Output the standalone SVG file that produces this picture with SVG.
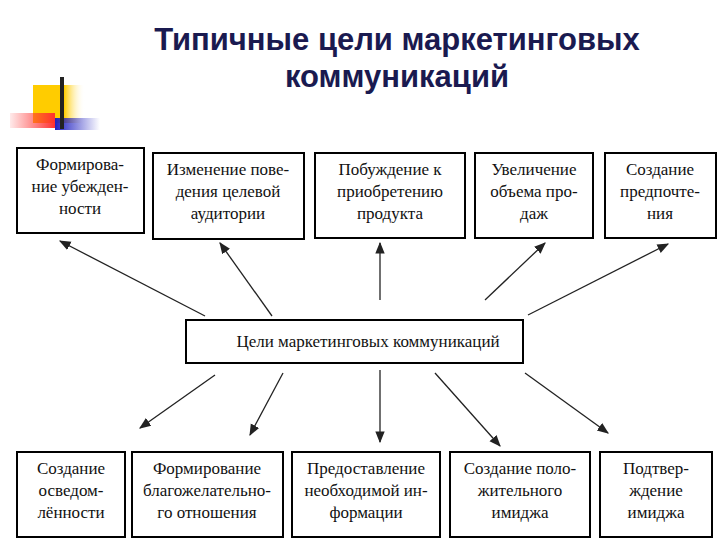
<svg xmlns="http://www.w3.org/2000/svg" width="720" height="540" viewBox="0 0 720 540">
<style>
.b{fill:#fff;stroke:#000;stroke-width:2}
.t{font-family:"Liberation Serif","Times New Roman","DejaVu Serif",serif;font-size:17px;text-anchor:middle;fill:#111}
.h{font-family:"Liberation Sans",Arial,sans-serif;font-size:31px;text-anchor:middle;fill:#1a1a50;font-weight:bold}
.c line{stroke:#222;stroke-width:1.3;marker-end:url(#a)}
</style>
<defs>
<marker id="a" viewBox="0 0 10 10" refX="9" refY="5" markerWidth="9" markerHeight="9" orient="auto"><path d="M0,1L10,5L0,9z" fill="#222"/></marker>
<linearGradient id="gy" x1="0" x2="1"><stop offset="0.6" stop-color="#ffcc00"/><stop offset="1" stop-color="#fff" stop-opacity="0"/></linearGradient>
<linearGradient id="gr" x1="1" x2="0"><stop offset="0" stop-color="#ff3030"/><stop offset="1" stop-color="#ff3030" stop-opacity="0.1"/></linearGradient>
<linearGradient id="gb" x1="0" x2="1"><stop offset="0" stop-color="#2020c0"/><stop offset="1" stop-color="#2020c0" stop-opacity="0"/></linearGradient>
</defs>
<g id="logo">
<rect x="33" y="85" width="52" height="38" fill="url(#gy)"/>
<rect x="10" y="113" width="45" height="15" fill="url(#gr)"/>
<rect x="55" y="118" width="45" height="12" fill="url(#gb)"/>
<rect x="60" y="77" width="4" height="52" fill="#222"/>
</g>
<text class="h" x="397" y="50">Типичные цели маркетинговых</text>
<text class="h" x="397" y="87">коммуникаций</text>
<g class="c" id="connectors">
<line x1="205" y1="316" x2="60" y2="241"/>
<line x1="272" y1="316" x2="220" y2="243"/>
<line x1="380" y1="300" x2="380" y2="243"/>
<line x1="485" y1="300" x2="545" y2="243"/>
<line x1="528" y1="315" x2="668" y2="244"/>
<line x1="215" y1="375" x2="140" y2="428"/>
<line x1="283" y1="373" x2="250" y2="435"/>
<line x1="380" y1="370" x2="380" y2="442"/>
<line x1="435" y1="373" x2="500" y2="446"/>
<line x1="525" y1="373" x2="608" y2="433"/>
</g>
<g id="n1"><rect class="b" x="17" y="148" width="127" height="85"/><text class="t" x="80" y="170">Формирова-</text><text class="t" x="80" y="192">ние убежден-</text><text class="t" x="80" y="214">ности</text></g>
<g id="n2"><rect class="b" x="153" y="153" width="151" height="86"/><text class="t" x="228" y="175">Изменение пове-</text><text class="t" x="228" y="197">дения целевой</text><text class="t" x="228" y="219">аудитории</text></g>
<g id="n3"><rect class="b" x="315" y="153" width="150" height="85"/><text class="t" x="390" y="175">Побуждение к</text><text class="t" x="390" y="197">приобретению</text><text class="t" x="390" y="219">продукта</text></g>
<g id="n4"><rect class="b" x="475" y="153" width="118" height="85"/><text class="t" x="534" y="175">Увеличение</text><text class="t" x="534" y="197">объема про-</text><text class="t" x="534" y="219">даж</text></g>
<g id="n5"><rect class="b" x="605" y="153" width="111" height="85"/><text class="t" x="660" y="175">Создание</text><text class="t" x="660" y="197">предпочте-</text><text class="t" x="660" y="219">ния</text></g>
<g id="center"><rect class="b" x="186" y="320" width="337" height="43"/><text class="t" x="368" y="347">Цели маркетинговых коммуникаций</text></g>
<g id="m1"><rect class="b" x="17" y="452" width="108" height="85"/><text class="t" x="71" y="474">Создание</text><text class="t" x="71" y="496">осведом-</text><text class="t" x="71" y="518">лённости</text></g>
<g id="m2"><rect class="b" x="132" y="452" width="151" height="85"/><text class="t" x="207" y="474">Формирование</text><text class="t" x="207" y="496">благожелательно-</text><text class="t" x="207" y="518">го отношения</text></g>
<g id="m3"><rect class="b" x="292" y="452" width="148" height="85"/><text class="t" x="366" y="474">Предоставление</text><text class="t" x="366" y="496">необходимой ин-</text><text class="t" x="366" y="518">формации</text></g>
<g id="m4"><rect class="b" x="450" y="452" width="140" height="85"/><text class="t" x="520" y="474">Создание поло-</text><text class="t" x="520" y="496">жительного</text><text class="t" x="520" y="518">имиджа</text></g>
<g id="m5"><rect class="b" x="600" y="452" width="112" height="85"/><text class="t" x="656" y="474">Подтвер-</text><text class="t" x="656" y="496">ждение</text><text class="t" x="656" y="518">имиджа</text></g>
</svg>
